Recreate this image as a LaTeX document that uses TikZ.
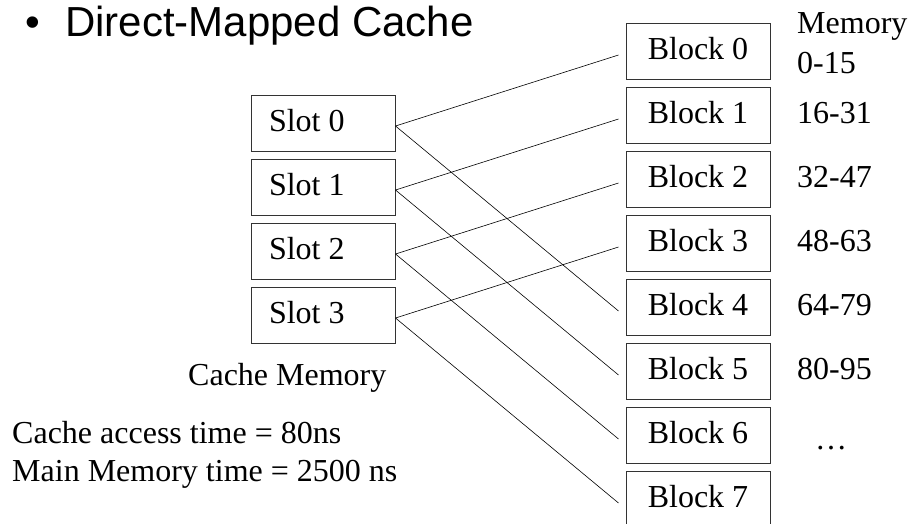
\documentclass[tikz,border=0pt]{standalone}
\usepackage{fontspec}
\setmainfont{Liberation Serif}
\newfontfamily\titlefont{Liberation Sans}
\begin{document}
\begin{tikzpicture}[x=1pt,y=-1pt,
  box/.style={draw=black!80,line width=1pt,rectangle,minimum width=144pt,minimum height=56pt,inner sep=0pt,text depth=5pt,font=\fontsize{32}{36}\selectfont},
  slotbox/.style={box,inner xsep=18pt},
  lbl/.style={anchor=base west,inner sep=0pt,font=\fontsize{32}{36}\selectfont},
  link/.style={line width=0.6pt,black}]
\useasboundingbox (0,0) rectangle (909,523);
\fill[white] (0,0) rectangle (909,523);
% title
\node[anchor=base west,inner sep=0pt,font=\titlefont\fontsize{42}{48}\selectfont] (title) at (25,36) {\makebox[40pt][l]{•}Direct-Mapped Cache};
% slots
\foreach \i in {0,...,3}{
  \node[slotbox] (s\i) at (323,{123+64*\i}) {\makebox[108pt][l]{Slot \i}};
}
% blocks
\foreach \j in {0,...,7}{
  \node[box] (b\j) at (698,{51+64*\j}) {Block \j};
}
% links
\foreach \i in {0,...,3}{
  \pgfmathtruncatemacro{\k}{\i+4}
  \draw[link] ([yshift=-3pt]s\i.east) -- ([xshift=-7pt,yshift=-4pt]b\i.west);
  \draw[link] ([yshift=-3pt]s\i.east) -- ([xshift=-7pt,yshift=-4pt]b\k.west);
}
% labels
\node[lbl] (mem) at (797,33) {Memory};
\node[lbl] (r0) at (797,73) {0-15};
\node[lbl] (r1) at (797,123) {16-31};
\node[lbl] (r2) at (797,187) {32-47};
\node[lbl] (r3) at (797,251) {48-63};
\node[lbl] (r4) at (797,315) {64-79};
\node[lbl] (r5) at (797,379) {80-95};
\node[lbl,anchor=base] (dots) at (831,449) {\dots};
\node[lbl] (cm) at (188,385) {Cache Memory};
\node[lbl] (t1) at (12,443) {Cache access time = 80ns};
\node[lbl] (t2) at (12,481) {Main Memory time = 2500 ns};
\end{tikzpicture}
\end{document}
